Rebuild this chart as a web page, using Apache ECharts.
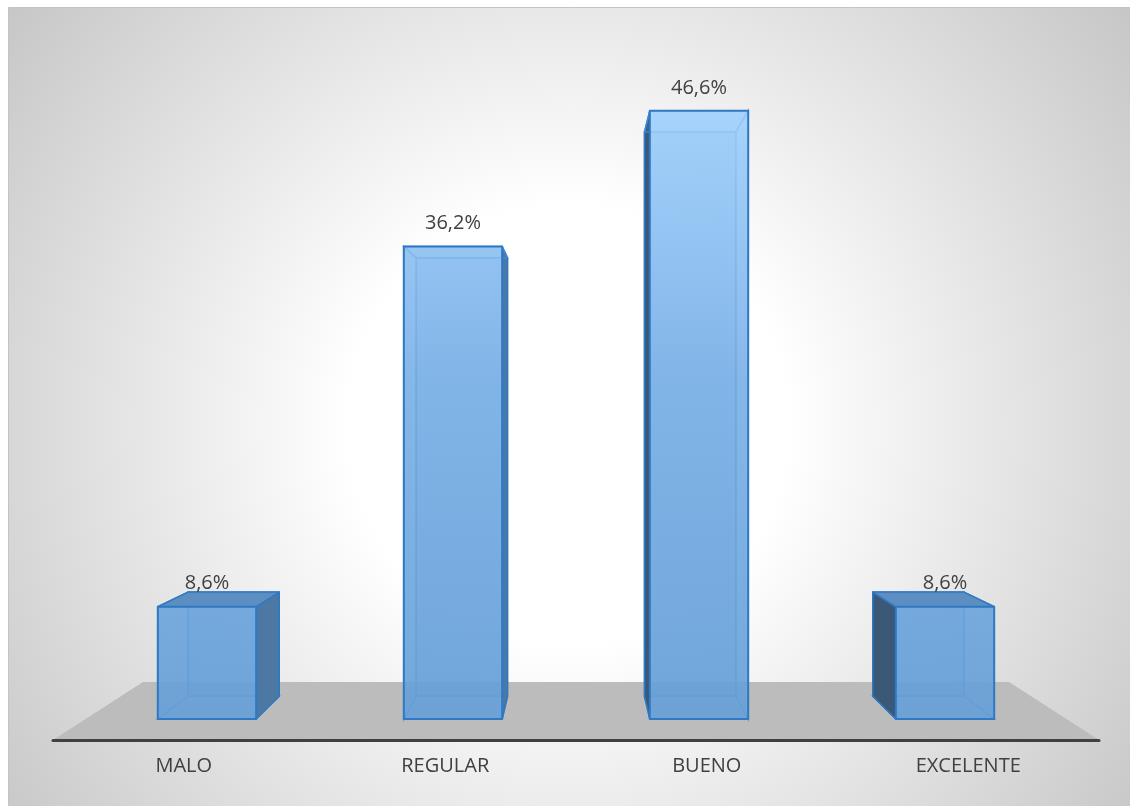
<!DOCTYPE html>
<html>
<head>
<meta charset="utf-8">
<script src="https://cdn.jsdelivr.net/npm/echarts@6/dist/echarts.min.js"></script>
<style>
  html, body { margin: 0; padding: 0; background: #ffffff; }
  #chart { width: 1130px; height: 806px; }
</style>
</head>
<body>
<div id="chart"></div>
<script>
// Rating categories and their share of answers (%)
const categories = ['MALO', 'REGULAR', 'BUENO', 'EXCELENTE'];
const values = [8.6, 36.2, 46.6, 8.6];

// Perspective set-up for the pseudo-3D look
const VANISH_Y = 403;      // horizon height of the vanishing point (px)
const BAR_DEPTH = 0.072;   // how far bar back faces shrink toward the vanishing point
const FLOOR_DEPTH = 0.172; // same for the floor slab
const FONT = '"Open Sans", "Noto Sans", sans-serif';

const fmt = v => v.toFixed(1).replace('.', ',') + '%';

const chart = echarts.init(document.getElementById('chart'), null, { renderer: 'canvas' });

function toBack(p, vp, k) {
  return [p[0] + k * (vp[0] - p[0]), p[1] + k * (vp[1] - p[1])];
}

// Floor slab under the bars, spanning the category axis grid
function renderFloor(params, api) {
  const cs = params.coordSys;
  const vp = [cs.x + cs.width / 2, VANISH_Y];
  const yF = cs.y + cs.height;
  const fl = [cs.x, yF], fr = [cs.x + cs.width, yF];
  const bl = toBack(fl, vp, FLOOR_DEPTH), br = toBack(fr, vp, FLOOR_DEPTH);
  return {
    type: 'polygon',
    shape: { points: [fl, fr, br, bl] },
    style: { fill: '#bcbcbc' },
    silent: true
  };
}

// Translucent box bars drawn in one-point perspective
function renderBar(params, api) {
  const idx = api.value(0);
  const v = api.value(1);
  const base = api.coord([idx, 0]);
  const top = api.coord([idx, v]);
  const bw = api.size([1, 0])[0] * 0.4;
  const cs = params.coordSys;
  const vp = [cs.x + cs.width / 2, VANISH_Y];
  const cx = base[0];
  const x0 = cx - bw / 2, x1 = cx + bw / 2;
  const yT = top[1], yB = base[1];

  const FTL = [x0, yT], FTR = [x1, yT], FBR = [x1, yB], FBL = [x0, yB];
  const BTL = toBack(FTL, vp, BAR_DEPTH), BTR = toBack(FTR, vp, BAR_DEPTH);
  const BBR = toBack(FBR, vp, BAR_DEPTH), BBL = toBack(FBL, vp, BAR_DEPTH);

  const edge = '#2f78c4';
  const innerEdge = 'rgba(66,140,214,0.85)';
  const hidden = { fill: 'rgba(70,130,195,0.2)', stroke: innerEdge, lineWidth: 1.5 };
  const children = [];

  // hidden faces (seen through the translucent front)
  children.push({ type: 'polygon', shape: { points: [BTL, BTR, BBR, BBL] },
    style: { fill: 'rgba(70,130,195,0.35)', stroke: innerEdge, lineWidth: 1.5 } });
  children.push({ type: 'polygon', shape: { points: [FBL, FBR, BBR, BBL] }, style: hidden });

  const rightVisible = x1 < vp[0];
  const leftVisible = x0 > vp[0];
  const leftFace = [FTL, FBL, BBL, BTL];
  const rightFace = [FTR, FBR, BBR, BTR];

  if (!leftVisible) children.push({ type: 'polygon', shape: { points: leftFace }, style: hidden });
  if (!rightVisible) children.push({ type: 'polygon', shape: { points: rightFace }, style: hidden });

  // side faces turned toward the viewer
  if (rightVisible) {
    children.push({ type: 'polygon', shape: { points: rightFace },
      style: { fill: '#4d78a3', stroke: edge, lineWidth: 1.5, lineJoin: 'round' } });
  }
  if (leftVisible) {
    children.push({ type: 'polygon', shape: { points: leftFace },
      style: { fill: '#3c5877', stroke: edge, lineWidth: 1.5, lineJoin: 'round' } });
  }
  // top face (only seen from above when below the horizon)
  const topFace = [FTL, FTR, BTR, BTL];
  if (yT > vp[1]) {
    children.push({ type: 'polygon', shape: { points: topFace },
      style: { fill: '#5d8ec1', stroke: edge, lineWidth: 1.5, lineJoin: 'round' } });
  } else {
    children.push({ type: 'polygon', shape: { points: topFace }, style: hidden });
  }
  // front face
  children.push({ type: 'polygon', shape: { points: [FTL, FTR, FBR, FBL] },
    style: {
      fill: new echarts.graphic.LinearGradient(0, 110, 0, 720, [
        { offset: 0, color: 'rgba(160,210,255,0.85)' },
        { offset: 0.45, color: 'rgba(118,174,230,0.85)' },
        { offset: 1, color: 'rgba(102,160,216,0.88)' }
      ], true),
      stroke: edge, lineWidth: 2, lineJoin: 'round'
    } });
  // value label
  children.push({ type: 'text',
    style: { text: fmt(v), x: cx, y: yT - 13, align: 'center', verticalAlign: 'bottom',
      font: '20px ' + FONT, fill: '#404040' } });

  return { type: 'group', children: children };
}

const option = {
  backgroundColor: '#ffffff',
  animation: false,
  graphic: {
    elements: [{
      type: 'rect', z: -100, silent: true,
      shape: { x: 8.5, y: 7.5, width: 1125, height: 802 },
      style: {
        fill: new echarts.graphic.RadialGradient(568, 425, 730, [
          { offset: 0, color: '#ffffff' },
          { offset: 0.3, color: '#ffffff' },
          { offset: 1, color: '#c3c3c3' }
        ], true),
        stroke: '#c4c4c4', lineWidth: 1
      }
    }]
  },
  grid: [
    { left: 84, right: 62, top: 66.5, bottom: 87 },
    { left: 53, right: 31, top: 600, bottom: 66 }
  ],
  xAxis: [
    { type: 'category', data: categories, gridIndex: 0, show: false },
    { type: 'category', data: categories, gridIndex: 1, z: 5,
      axisLine: { show: true, lineStyle: { color: '#404040', width: 3 } },
      axisTick: { show: false },
      axisLabel: { color: '#404040', fontSize: 20, fontFamily: FONT, margin: 16 } }
  ],
  yAxis: [
    { type: 'value', min: 0, max: 50, gridIndex: 0, show: false },
    { type: 'value', min: 0, max: 1, gridIndex: 1, show: false }
  ],
  series: [
    { type: 'custom', xAxisIndex: 1, yAxisIndex: 1, z: 1, clip: false,
      renderItem: renderFloor, data: [[0, 0]], silent: true },
    { type: 'custom', xAxisIndex: 0, yAxisIndex: 0, z: 3, clip: false,
      renderItem: renderBar, data: categories.map((c, i) => [i, values[i]]) }
  ]
};

chart.setOption(option);
</script>
</body>
</html>
